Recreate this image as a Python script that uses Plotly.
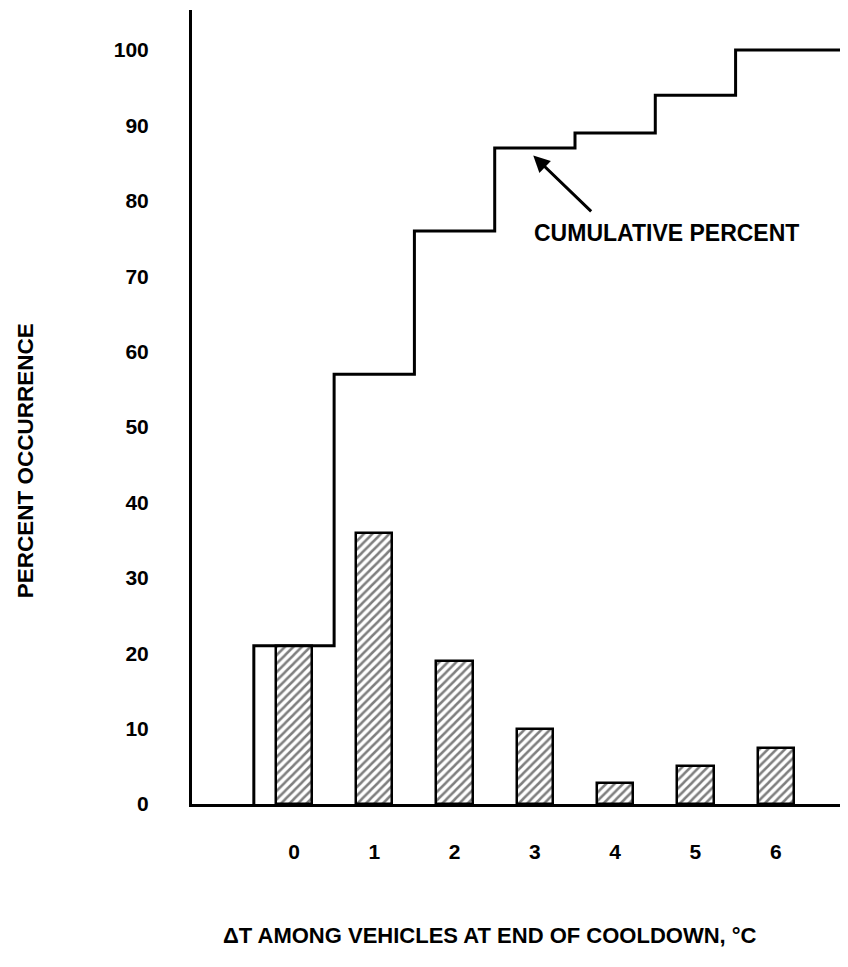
import plotly.graph_objects as go

# Data
delta_t = [0, 1, 2, 3, 4, 5, 6]
percent = [21, 36, 19, 10, 2.8, 5, 7.4]
cumulative = [21, 57, 76, 87, 89, 94, 100]
y_ticks = [0, 10, 20, 30, 40, 50, 60, 70, 80, 90, 100]

X_MIN, X_MAX = -1.27, 6.9
Y_MIN, Y_MAX = 0, 105.3

FONT = "Liberation Sans, Arial, sans-serif"

fig = go.Figure()

# Hatched bars
fig.add_trace(go.Bar(
    x=delta_t, y=percent, width=0.45,
    marker=dict(color="white",
                line=dict(color="black", width=2.5),
                pattern=dict(shape="/", fgcolor="black", bgcolor="white",
                             size=6, solidity=0.42)),
    showlegend=False, hoverinfo="skip",
))

# Cumulative step line (steps at the bin edges)
edges = [c - 0.5 for c in delta_t]
step_x = [edges[0]] + edges + [X_MAX]
step_y = [0] + cumulative + [cumulative[-1]]
fig.add_trace(go.Scatter(
    x=step_x, y=step_y, mode="lines", line_shape="hv",
    line=dict(color="black", width=3),
    showlegend=False, hoverinfo="skip", cliponaxis=False,
))

fig.update_layout(
    width=840, height=959,
    margin=dict(l=184, r=0, t=2, b=163),
    paper_bgcolor="white", plot_bgcolor="white",
    font=dict(family=FONT, color="black", size=21),
    bargap=0,
)

fig.update_xaxes(
    range=[X_MIN, X_MAX], tickvals=delta_t, ticktext=[str(v) for v in delta_t],
    showgrid=False, zeroline=False, showline=True, linecolor="black", linewidth=3,
    ticks="", ticklabelstandoff=27,
    tickfont=dict(family=FONT, size=21, weight="bold", color="black"),
)
fig.update_yaxes(
    range=[Y_MIN, Y_MAX], tickvals=y_ticks, ticktext=[str(v) for v in y_ticks],
    showgrid=False, zeroline=False, showline=True, linecolor="black", linewidth=3,
    ticks="", ticklabelstandoff=36,
    tickfont=dict(family=FONT, size=21, weight="bold", color="black"),
)

# Axis titles as annotations
fig.add_annotation(
    text="<b>ΔT AMONG VEHICLES AT END OF COOLDOWN, °C</b>",
    xref="paper", yref="paper", x=0.454, y=-0.165,
    xanchor="center", yanchor="middle", showarrow=False,
    font=dict(family=FONT, size=22, color="black"),
)
fig.add_annotation(
    text="<b>PERCENT OCCURRENCE</b>",
    xref="paper", yref="paper", x=-0.2546, y=0.433,
    xanchor="center", yanchor="middle", showarrow=False, textangle=-90,
    font=dict(family=FONT, size=22.5, color="black"),
)

# Cumulative percent label and arrow
fig.add_annotation(
    text="<b>CUMULATIVE PERCENT</b>",
    x=4.64, y=75.7, xref="x", yref="y",
    xanchor="center", yanchor="middle", showarrow=False,
    font=dict(family=FONT, size=23, color="black"),
)
fig.add_annotation(
    text="", x=2.98, y=86.0, xref="x", yref="y",
    ax=3.72, ay=78.4, axref="x", ayref="y",
    showarrow=True, arrowhead=2, arrowsize=1.1, arrowwidth=3, arrowcolor="black",
)

fig.write_html("out.html")
